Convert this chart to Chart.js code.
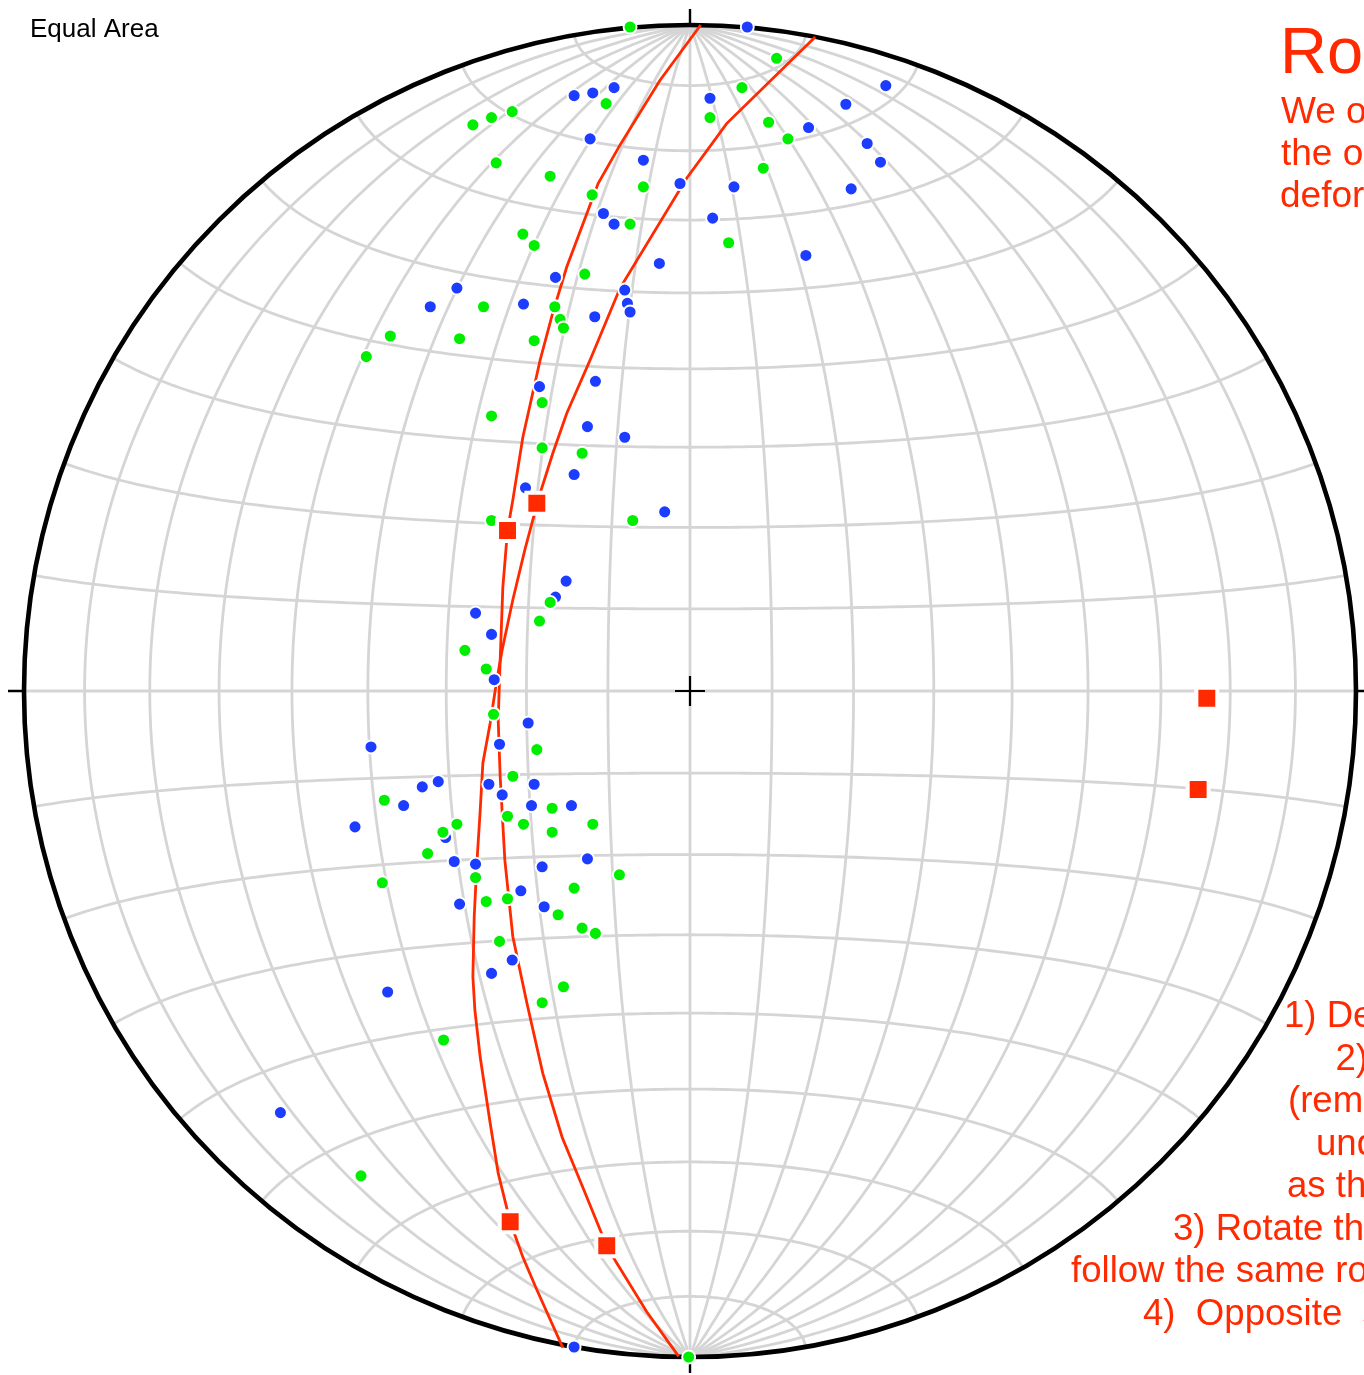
<!DOCTYPE html>
<html>
<head>
<meta charset="utf-8">
<title>Equal Area</title>
<script src="https://cdn.jsdelivr.net/npm/chart.js@4.4.1/dist/chart.umd.min.js"></script>
<style>
html, body { margin: 0; padding: 0; background: #ffffff; }
canvas { display: block; }
</style>
</head>
<body>
<canvas id="net" width="1364" height="1375"></canvas>
<script>
// Projected positions on the equal-area net, in units of the net radius
// (x = east, y = north; the primitive circle has radius 1).

// Blue data set
const bluePoints = [
  [-0.174, 0.894], [-0.146, 0.898], [-0.114, 0.906], [-0.150, 0.829], [-0.070, 0.797],
  [-0.130, 0.717], [-0.114, 0.701], [-0.202, 0.621], [-0.350, 0.605], [-0.390, 0.577],
  [-0.250, 0.581], [-0.143, 0.562], [-0.098, 0.602], [-0.094, 0.582], [-0.090, 0.569],
  [0.086, 0.997], [0.294, 0.909], [0.234, 0.881], [0.030, 0.890], [0.178, 0.846],
  [0.266, 0.822], [0.286, 0.794], [-0.015, 0.762], [0.066, 0.757], [0.242, 0.754],
  [0.034, 0.710], [0.174, 0.654], [-0.046, 0.642],
  [-0.226, 0.457], [-0.142, 0.465], [-0.154, 0.397], [-0.098, 0.381], [-0.174, 0.325],
  [-0.247, 0.305], [-0.038, 0.269], [-0.186, 0.165], [-0.202, 0.141], [-0.322, 0.117],
  [-0.298, 0.085], [-0.294, 0.017],
  [-0.243, -0.048], [-0.479, -0.084], [-0.286, -0.080], [-0.378, -0.136], [-0.402, -0.144],
  [-0.430, -0.172], [-0.302, -0.140], [-0.234, -0.140], [-0.282, -0.156], [-0.238, -0.172],
  [-0.178, -0.172], [-0.503, -0.204], [-0.367, -0.220], [-0.354, -0.256], [-0.322, -0.260],
  [-0.222, -0.264], [-0.154, -0.252], [-0.254, -0.300], [-0.346, -0.320], [-0.219, -0.324],
  [-0.267, -0.404], [-0.298, -0.424], [-0.454, -0.452], [-0.615, -0.633], [-0.174, -0.985]
];

// Green data set
const greenPoints = [
  [-0.126, 0.882], [-0.267, 0.870], [-0.298, 0.861], [-0.326, 0.850], [-0.291, 0.793],
  [-0.210, 0.773], [-0.147, 0.745], [-0.070, 0.757], [-0.090, 0.701], [-0.251, 0.686],
  [-0.234, 0.669], [-0.158, 0.626], [-0.203, 0.577], [-0.195, 0.558], [-0.190, 0.545],
  [-0.310, 0.577], [-0.450, 0.533], [-0.346, 0.529], [-0.234, 0.526], [-0.486, 0.502],
  [-0.090, 0.997], [0.130, 0.950], [0.078, 0.906], [0.030, 0.861], [0.118, 0.854],
  [0.147, 0.829], [0.110, 0.785], [0.058, 0.673],
  [-0.222, 0.433], [-0.298, 0.413], [-0.222, 0.365], [-0.162, 0.357], [-0.226, 0.289],
  [-0.298, 0.256], [-0.086, 0.256], [-0.210, 0.133], [-0.226, 0.105], [-0.338, 0.061],
  [-0.306, 0.033],
  [-0.295, -0.035], [-0.230, -0.088], [-0.266, -0.128], [-0.459, -0.164], [-0.350, -0.200],
  [-0.371, -0.212], [-0.274, -0.188], [-0.250, -0.200], [-0.207, -0.176], [-0.207, -0.212],
  [-0.146, -0.200], [-0.394, -0.244], [-0.322, -0.280], [-0.462, -0.288], [-0.106, -0.276],
  [-0.174, -0.296], [-0.306, -0.316], [-0.274, -0.312], [-0.198, -0.336], [-0.162, -0.356],
  [-0.142, -0.364], [-0.286, -0.376], [-0.190, -0.444], [-0.222, -0.468], [-0.370, -0.524],
  [-0.494, -0.728], [-0.002, -1.000]
];

// Rotation paths (small circles traced by the rotated lines)
const rotationPathA = [
  [0.016, 1.000], [-0.045, 0.917], [-0.105, 0.820], [-0.138, 0.762], [-0.153, 0.722],
  [-0.185, 0.637], [-0.206, 0.568], [-0.225, 0.497], [-0.251, 0.381], [-0.266, 0.287],
  [-0.274, 0.241], [-0.281, 0.156], [-0.285, 0.047], [-0.288, -0.044], [-0.285, -0.129],
  [-0.278, -0.254], [-0.266, -0.369], [-0.245, -0.468], [-0.221, -0.574], [-0.192, -0.670],
  [-0.161, -0.745], [-0.135, -0.809], [-0.125, -0.833], [-0.110, -0.859], [-0.065, -0.932],
  [-0.017, -0.999]
];
const rotationPathB = [
  [0.188, 0.982], [0.055, 0.852], [-0.005, 0.770], [-0.105, 0.605], [-0.150, 0.497],
  [-0.185, 0.417], [-0.206, 0.357], [-0.225, 0.297], [-0.230, 0.279], [-0.236, 0.257],
  [-0.248, 0.212], [-0.266, 0.137], [-0.282, 0.062], [-0.290, 0.017], [-0.300, -0.048],
  [-0.311, -0.108], [-0.315, -0.179], [-0.320, -0.258], [-0.324, -0.339], [-0.326, -0.429],
  [-0.323, -0.479], [-0.315, -0.550], [-0.300, -0.649], [-0.288, -0.724], [-0.270, -0.797],
  [-0.251, -0.850], [-0.230, -0.899], [-0.191, -0.986]
];

// Rotated lines and rotation axes
const redSquares = [
  [-0.274, 0.241], [-0.230, 0.282], [0.776, -0.011], [0.763, -0.148],
  [-0.270, -0.797], [-0.125, -0.833]
];

// Net graticule: 10 degree great and small circles
const gridLatitudes = [-80, -70, -60, -50, -40, -30, -20, -10, 0, 10, 20, 30, 40, 50, 60, 70, 80];
const gridLongitudes = [-80, -70, -60, -50, -40, -30, -20, -10, 0, 10, 20, 30, 40, 50, 60, 70, 80];

const titleLines = ['Rotations'];
const introLines = [
  'We often have to bring the data back to',
  'the orientation they had before the',
  'deformation, by rotating them on the net.'
];
const stepLines = [
  '1) Define the rotation axis and angle',
  '2) Rotate the bedding back to horizontal',
  '(remember that the rotation axis stays',
  'under the same orientation',
  'as the rotation proceeds)',
  '3) Rotate the other data: each point must',
  'follow the same rotation along a small circle',
  '4)  Opposite  sense restores the deformed state'
];

const RED = '#ff2a00';
const BLUE = '#1c3cff';
const GREEN = '#00ee00';
const GRID = '#d5d5d5';
const FONT = "'Liberation Sans', Arial, Helvetica, sans-serif";

const toXY = arr => arr.map(p => ({ x: p[0], y: p[1] }));

// Lambert azimuthal equal-area, equatorial aspect, scaled to unit primitive
function netProject(latDeg, lonDeg) {
  const phi = latDeg * Math.PI / 180;
  const lam = lonDeg * Math.PI / 180;
  const k = Math.sqrt(2 / (1 + Math.cos(phi) * Math.cos(lam)));
  return [k * Math.cos(phi) * Math.sin(lam) / Math.SQRT2, k * Math.sin(phi) / Math.SQRT2];
}

const netPlugin = {
  id: 'equalAreaNet',
  beforeDatasetsDraw(chart) {
    const { ctx, scales } = chart;
    const px = v => scales.x.getPixelForValue(v);
    const py = v => scales.y.getPixelForValue(v);
    ctx.save();
    ctx.strokeStyle = GRID;
    ctx.lineWidth = 2.8;
    ctx.lineJoin = 'round';
    ctx.lineCap = 'butt';
    // great circles (meridians) from pole to pole
    gridLongitudes.forEach(lon => {
      ctx.beginPath();
      for (let lat = -90; lat <= 90; lat += 1) {
        const [u, v] = netProject(lat, lon);
        if (lat === -90) ctx.moveTo(px(u), py(v)); else ctx.lineTo(px(u), py(v));
      }
      ctx.stroke();
    });
    // small circles
    gridLatitudes.forEach(lat => {
      ctx.beginPath();
      for (let lon = -90; lon <= 90; lon += 1) {
        const [u, v] = netProject(lat, lon);
        if (lon === -90) ctx.moveTo(px(u), py(v)); else ctx.lineTo(px(u), py(v));
      }
      ctx.stroke();
    });
    // primitive circle
    const cx = px(0), cy = py(0), r = px(1) - px(0);
    ctx.strokeStyle = '#000000';
    ctx.lineWidth = 4.6;
    ctx.beginPath();
    ctx.arc(cx, cy, r, 0, Math.PI * 2);
    ctx.stroke();
    // N, E, S, W ticks
    ctx.lineWidth = 2.4;
    const t = 16;
    ctx.beginPath();
    ctx.moveTo(cx, cy - r); ctx.lineTo(cx, cy - r - t);
    ctx.moveTo(cx, cy + r); ctx.lineTo(cx, cy + r + t);
    ctx.moveTo(cx - r, cy); ctx.lineTo(cx - r - t, cy);
    ctx.moveTo(cx + r, cy); ctx.lineTo(cx + r + t, cy);
    ctx.stroke();
    // centre cross
    ctx.lineWidth = 2.2;
    ctx.beginPath();
    ctx.moveTo(cx - 15, cy); ctx.lineTo(cx + 15, cy);
    ctx.moveTo(cx, cy - 15); ctx.lineTo(cx, cy + 15);
    ctx.stroke();
    ctx.restore();
  },
  afterDraw(chart) {
    const { ctx } = chart;
    ctx.save();
    ctx.textAlign = 'left';
    ctx.textBaseline = 'alphabetic';
    ctx.fillStyle = '#000000';
    ctx.font = '26px ' + FONT;
    ctx.fillText('Equal Area', 30, 37);

    ctx.fillStyle = RED;
    ctx.font = '65px ' + FONT;
    ctx.fillText(titleLines[0], 1280, 73);
    ctx.font = '37px ' + FONT;
    const introX = [1281, 1281, 1280];
    introLines.forEach((s, i) => ctx.fillText(s, introX[i], 123.3 + i * 41.7));

    ctx.font = '36.6px ' + FONT;
    const stepX = [1284, 1335.5, 1288, 1316, 1287, 1173, 1071, 1143];
    stepLines.forEach((s, i) => ctx.fillText(s, stepX[i], 1027.3 + i * 42.53));
    ctx.restore();
  }
};

new Chart(document.getElementById('net'), {
  type: 'scatter',
  data: {
    datasets: [
      {
        label: 'Rotation axes',
        data: toXY(redSquares),
        pointStyle: 'rect',
        pointRadius: 14.8,
        pointBackgroundColor: RED,
        pointBorderColor: '#ffffff',
        pointBorderWidth: 4,
        showLine: false,
        clip: false,
        order: 0
      },
      {
        label: 'Green',
        data: toXY(greenPoints),
        pointRadius: 6.5,
        pointBackgroundColor: GREEN,
        pointBorderColor: '#ffffff',
        pointBorderWidth: 1.9,
        showLine: false,
        clip: false,
        order: 1
      },
      {
        label: 'Blue',
        data: toXY(bluePoints),
        pointRadius: 6.5,
        pointBackgroundColor: BLUE,
        pointBorderColor: '#ffffff',
        pointBorderWidth: 1.9,
        showLine: false,
        clip: false,
        order: 2
      },
      {
        label: 'Path A',
        data: toXY(rotationPathA),
        showLine: true,
        borderColor: RED,
        borderWidth: 2.8,
        pointRadius: 0,
        tension: 0,
        fill: false,
        clip: false,
        order: 3
      },
      {
        label: 'Path B',
        data: toXY(rotationPathB),
        showLine: true,
        borderColor: RED,
        borderWidth: 2.8,
        pointRadius: 0,
        tension: 0,
        fill: false,
        clip: false,
        order: 3
      }
    ]
  },
  options: {
    responsive: false,
    animation: false,
    devicePixelRatio: 1,
    layout: { autoPadding: false, padding: { left: 24, right: 8, top: 25, bottom: 18 } },
    plugins: { legend: { display: false }, tooltip: { enabled: false } },
    events: [],
    scales: {
      x: { type: 'linear', min: -1, max: 1, display: false },
      y: { type: 'linear', min: -1, max: 1, display: false }
    }
  },
  plugins: [netPlugin]
});
</script>
</body>
</html>
